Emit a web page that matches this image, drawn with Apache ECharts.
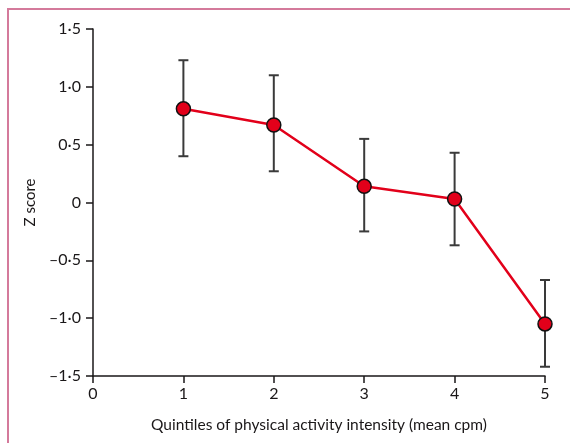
<!DOCTYPE html>
<html>
<head>
<meta charset="utf-8">
<script src="https://cdn.jsdelivr.net/npm/echarts@6/dist/echarts.min.js"></script>
<style>html,body{margin:0;padding:0;background:#fff}#c{width:570px;height:443px}</style>
</head>
<body>
<div id="c"></div>
<script>
const quintiles = [1, 2, 3, 4, 5];
const zMean = [0.81, 0.67, 0.14, 0.03, -1.05];
const ciUpper = [1.23, 1.10, 0.55, 0.43, -0.67];
const ciLower = [0.40, 0.27, -0.25, -0.37, -1.42];
const xTitle = 'Quintiles of physical activity intensity (mean cpm)';
const yTitle = 'Z score';

const font = 'Lato, "Open Sans", sans-serif';
const fmtY = v => v === 0 ? '0' : v.toFixed(1).replace('.', '\u00b7').replace('-', '\u2013');

const chart = echarts.init(document.getElementById('c'));
chart.setOption({
  animation: false,
  backgroundColor: '#fff',
  grid: { left: 93, right: 25, top: 29, bottom: 67 },
  graphic: [{
    type: 'polyline',
    shape: { points: [[8, 443], [8, 9], [570, 9]] },
    style: { stroke: '#d47a9b', lineWidth: 2, fill: null },
    silent: true
  }],
  xAxis: {
    type: 'value', min: 0, max: 5, interval: 1,
    name: xTitle, nameLocation: 'middle', nameGap: 41,
    nameTextStyle: { fontFamily: font, fontSize: 15.5, color: '#1a1718' },
    axisLine: { onZero: false, lineStyle: { color: '#1a1718', width: 1.5 } },
    axisTick: { show: true, length: 7, lineStyle: { color: '#1a1718', width: 1.5 } },
    axisLabel: { fontFamily: font, fontSize: 16, color: '#1a1718', margin: 10 },
    splitLine: { show: false }
  },
  yAxis: {
    type: 'value', min: -1.5, max: 1.5, interval: 0.5,
    name: yTitle, nameLocation: 'middle', nameGap: 53, nameRotate: 90,
    nameTextStyle: { fontFamily: font, fontSize: 15, color: '#1a1718' },
    axisLine: { show: true, onZero: false, lineStyle: { color: '#1a1718', width: 1.5 } },
    axisTick: { show: true, length: 7, lineStyle: { color: '#1a1718', width: 1.5 } },
    axisLabel: { fontFamily: font, fontSize: 16, color: '#1a1718', margin: 12, formatter: fmtY },
    splitLine: { show: false }
  },
  series: [
    {
      type: 'custom',
      data: quintiles.map((q, i) => [q, ciLower[i], ciUpper[i]]),
      renderItem: (params, api) => {
        const lo = api.coord([api.value(0), api.value(1)]);
        const hi = api.coord([api.value(0), api.value(2)]);
        const w = 5;
        const st = { stroke: '#3a3a3a', lineWidth: 2 };
        return {
          type: 'group',
          children: [
            { type: 'line', shape: { x1: lo[0], y1: lo[1], x2: hi[0], y2: hi[1] }, style: st },
            { type: 'line', shape: { x1: lo[0] - w, y1: lo[1], x2: lo[0] + w, y2: lo[1] }, style: st },
            { type: 'line', shape: { x1: hi[0] - w, y1: hi[1], x2: hi[0] + w, y2: hi[1] }, style: st }
          ]
        };
      },
      z: 1
    },
    {
      type: 'line',
      data: quintiles.map((q, i) => [q, zMean[i]]),
      symbol: 'circle', symbolSize: 14,
      lineStyle: { color: '#e2001a', width: 2.5 },
      itemStyle: { color: '#e2001a', borderColor: '#111', borderWidth: 1.5 },
      z: 2
    }
  ]
});
</script>
</body>
</html>
